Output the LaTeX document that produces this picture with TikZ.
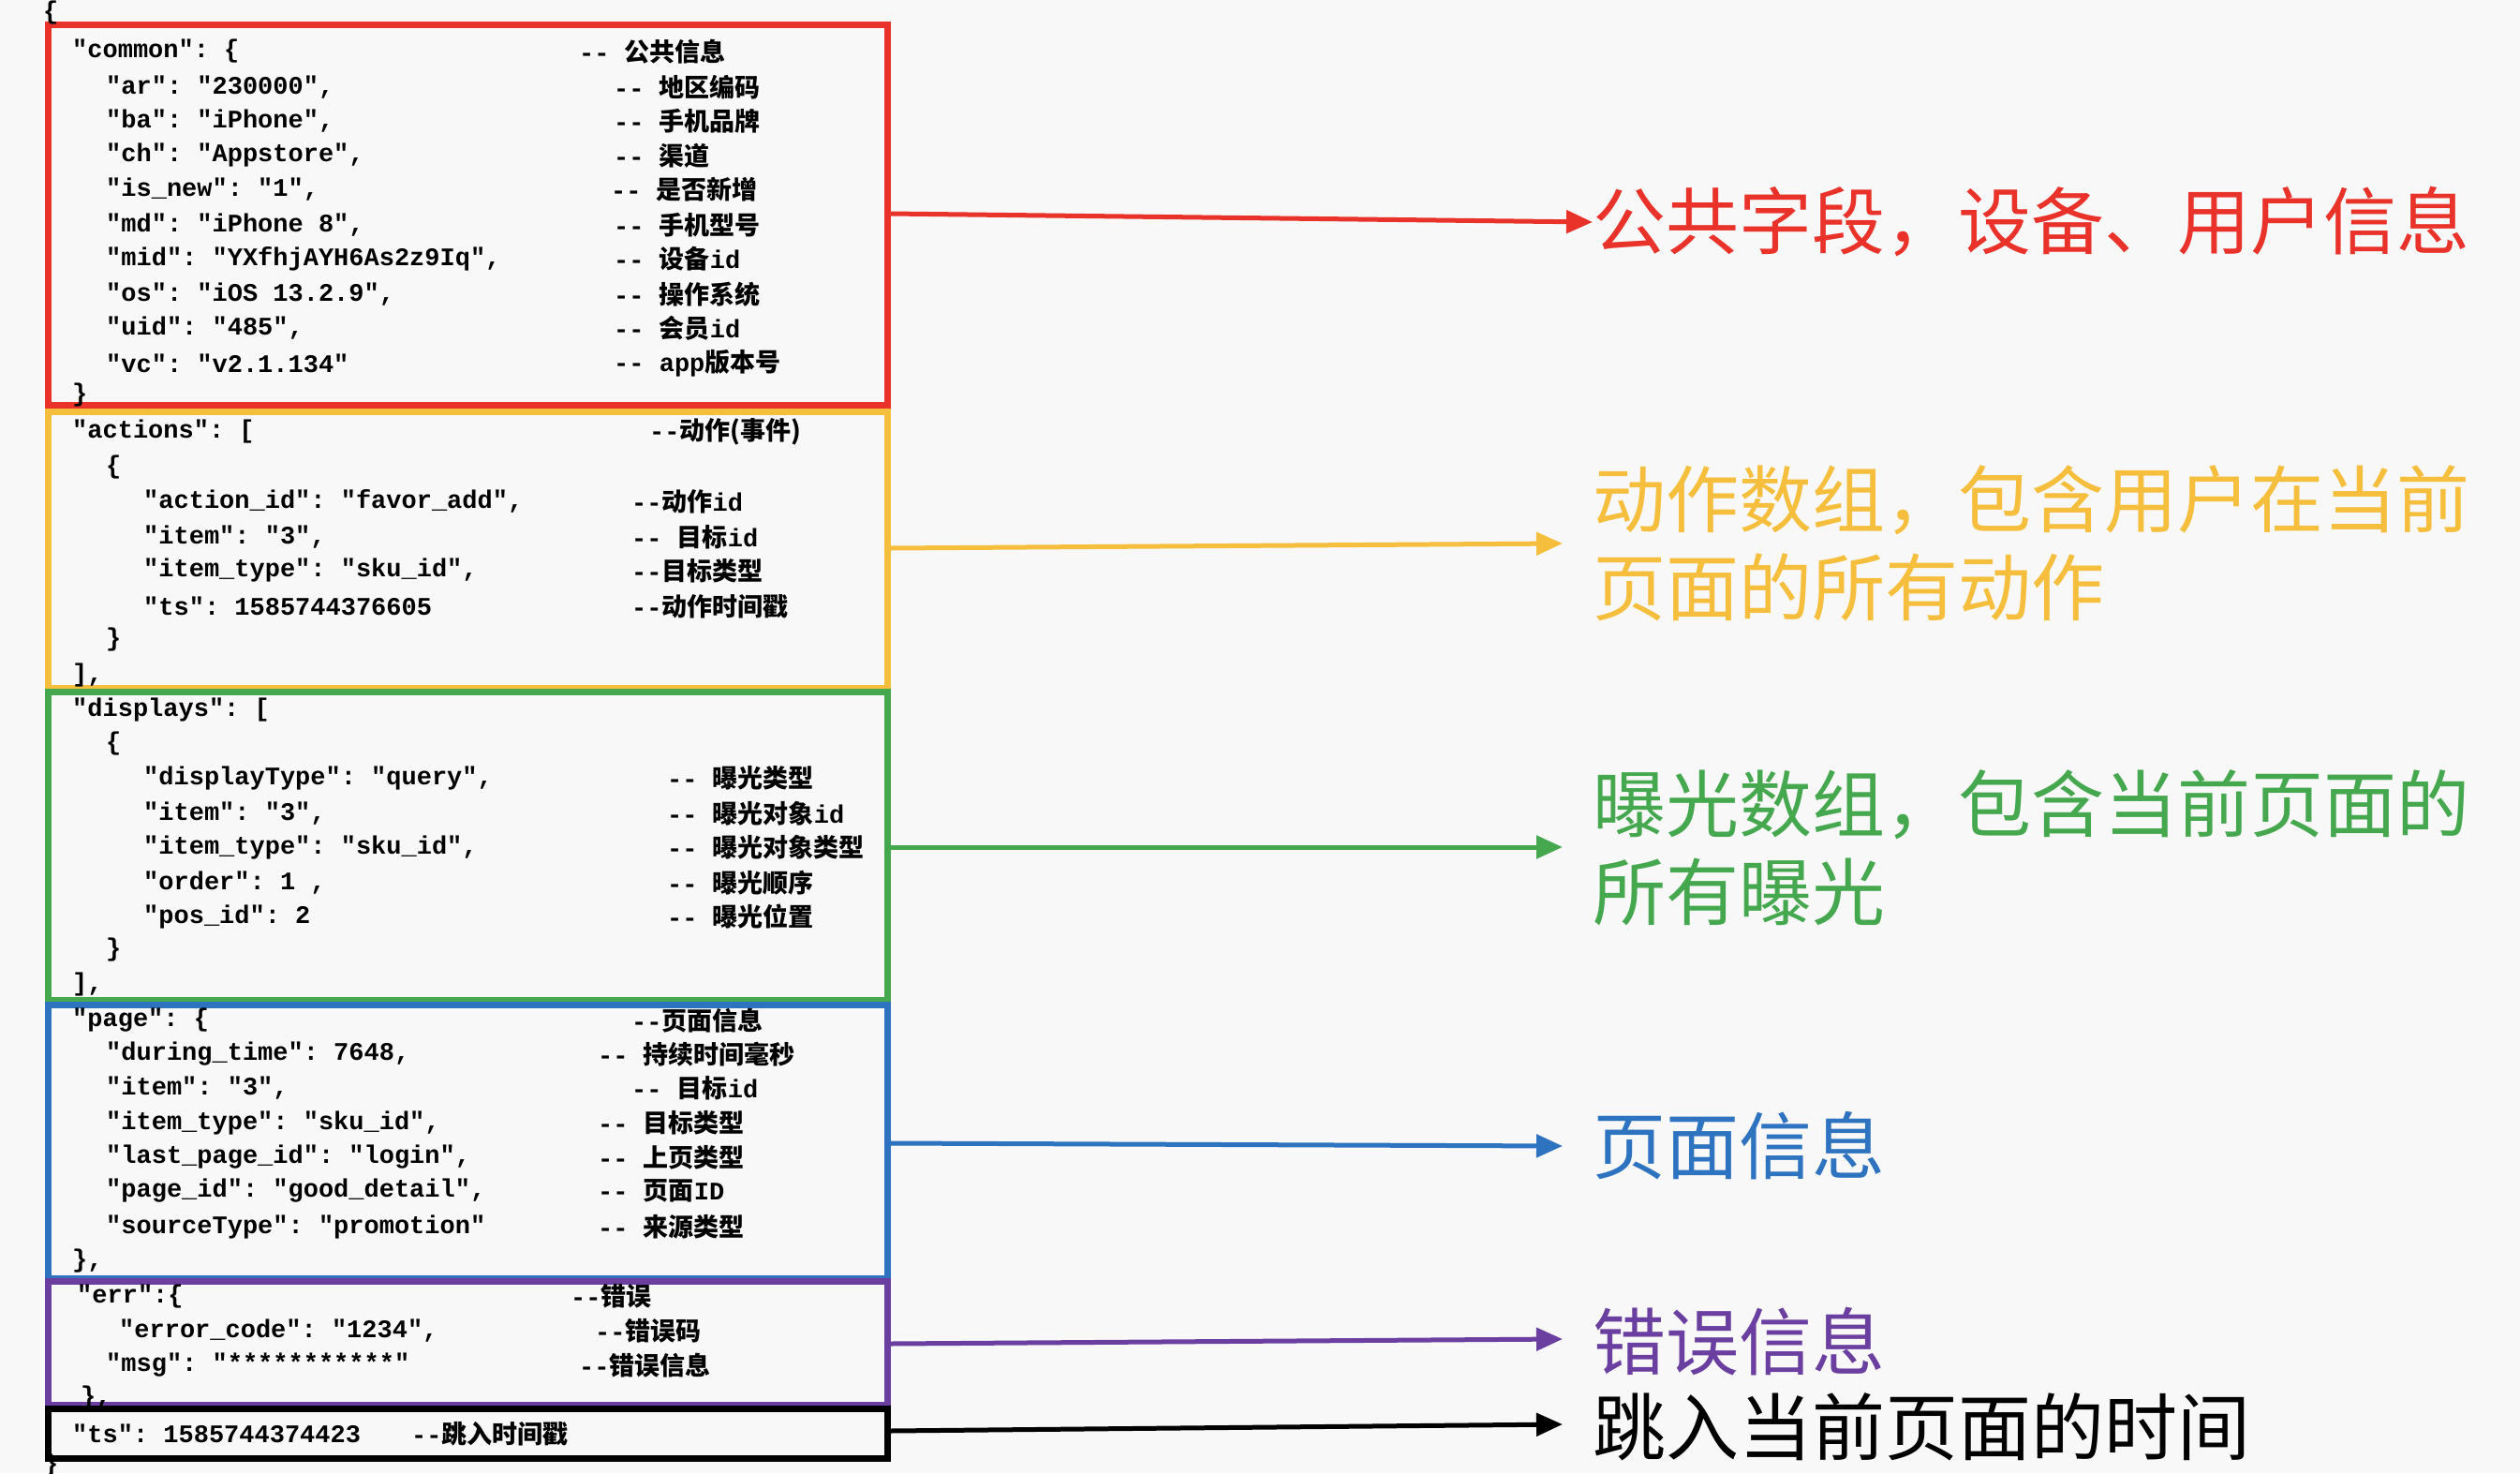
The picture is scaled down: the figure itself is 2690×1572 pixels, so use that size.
\documentclass[tikz,border=0pt]{standalone}
\usepackage{fontspec}
\setmonofont{Liberation Mono}
\newfontfamily\cjk{Noto Sans CJK SC}
\usetikzlibrary{arrows.meta}
\definecolor{cred}{HTML}{E8322A}
\definecolor{cyel}{HTML}{F5BE3C}
\definecolor{cgrn}{HTML}{45A84F}
\definecolor{cblu}{HTML}{2E73C0}
\definecolor{cpur}{HTML}{6A3FA0}
\definecolor{bg}{HTML}{F8F8F8}
\newcommand{\cj}[1]{{\cjk #1}}
\tikzset{
 code/.style={anchor=west,inner sep=0pt,font=\fontsize{27}{30}\selectfont\ttfamily\bfseries},
 sect/.style={line width=7pt},
 conn/.style={line width=5pt,-{Triangle[length=28pt,width=24pt]}},
 big/.style={anchor=west,inner sep=0pt,align=left,font=\fontsize{78}{94}\selectfont\cjk}
}
\begin{document}
\begin{tikzpicture}[x=1pt,y=-1pt]
\fill[bg] (0,0) rectangle (2690,1572);
\useasboundingbox (0,0) rectangle (2690,1572);
% boxes
\draw[sect,cred] (51,26) rectangle (947,432) coordinate (rb);
\node (rbox) at (947,230) {};
\draw[sect,cyel] (51,439) rectangle (947,734);
\draw[sect,cgrn] (51,738) rectangle (947,1067);
\draw[sect,cblu] (51,1072) rectangle (947,1364);
\draw[sect,cpur] (51,1367) rectangle (947,1499);
\draw[sect,black] (51,1503) rectangle (947,1556);
\coordinate (ra) at (950,228);
\coordinate (ya) at (950,585);
\coordinate (ga) at (950,904);
\coordinate (ba) at (950,1220);
\coordinate (pa) at (950,1434);
\coordinate (ka) at (950,1527);
% labels
\node[big,text=cred] (lr) at (1700,237) {公共字段，设备、用户信息};
\node[big,text=cyel] (ly) at (1700,580) {动作数组，包含用户在当前\\页面的所有动作};
\node[big,text=cgrn] (lg) at (1700,905) {曝光数组，包含当前页面的\\所有曝光};
\node[big,text=cblu] (lb) at (1700,1223) {页面信息};
\node[big,text=cpur] (lp) at (1700,1432) {错误信息};
\node[big,text=black] (lk) at (1700,1523) {跳入当前页面的时间};
\draw[conn,cred] (ra) -- (lr.west|-0,237) coordinate (re);
\draw[conn,cyel] (ya) -- (1668,580);
\draw[conn,cgrn] (ga) -- (1668,904);
\draw[conn,cblu] (ba) -- (1668,1223);
\draw[conn,cpur] (pa) -- (1668,1429);
\draw[conn,black] (ka) -- (1668,1520);
% code
\node[code] (o1) at (46,14) {\{};
\node[code] (o2) at (46,1563) {\}};
\node[code] (c1) at (77,55) {"common": \{};
\node[code] at (618,55) {-- \cj{公共信息}};
\node[code] at (113,93) {"ar": "230000",};  \node[code] at (655,93) {-- \cj{地区编码}};
\node[code] at (113,129) {"ba": "iPhone",}; \node[code] at (655,129) {-- \cj{手机品牌}};
\node[code] at (113,166) {"ch": "Appstore",}; \node[code] at (655,166) {-- \cj{渠道}};
\node[code] at (113,202) {"is\_new": "1",}; \node[code] at (652,202) {--  \cj{是否新增}};
\node[code] at (113,240) {"md": "iPhone 8",}; \node[code] at (655,240) {-- \cj{手机型号}};
\node[code] at (113,276) {"mid": "YXfhjAYH6As2z9Iq",}; \node[code] at (655,276) {-- \cj{设备}id};
\node[code] at (113,314) {"os": "iOS 13.2.9",}; \node[code] at (655,314) {-- \cj{操作系统}};
\node[code] at (113,350) {"uid": "485",}; \node[code] at (655,350) {-- \cj{会员}id};
\node[code] at (113,388) {"vc": "v2.1.134"}; \node[code] at (655,388) {-- app\cj{版本号}};
\node[code] at (77,422) {\}};
% actions
\node[code] at (77,461) {"actions": [}; \node[code] at (693,461) {--\cj{动作(事件)}};
\node[code] at (113,499) {\{};
\node[code] at (153,535) {"action\_id": "favor\_add",}; \node[code] at (674,535) {--\cj{动作}id};
\node[code] at (153,573) {"item": "3",}; \node[code] at (674,573) {-- \cj{目标}id};
\node[code] at (153,609) {"item\_type": "sku\_id",}; \node[code] at (674,609) {--\cj{目标类型}};
\node[code] at (153,647) {"ts": 1585744376605}; \node[code] at (674,647) {--\cj{动作时间戳}};
\node[code] at (113,683) {\}};
\node[code] at (77,721) {],};
% displays
\node[code] at (77,757) {"displays": [};
\node[code] at (113,794) {\{};
\node[code] at (153,830) {"displayType": "query",}; \node[code] at (712,830) {-- \cj{曝光类型}};
\node[code] at (153,868) {"item": "3",}; \node[code] at (712,868) {-- \cj{曝光对象}id};
\node[code] at (153,904) {"item\_type": "sku\_id",}; \node[code] at (712,904) {-- \cj{曝光对象类型}};
\node[code] at (153,942) {"order": 1 ,}; \node[code] at (712,942) {-- \cj{曝光顺序}};
\node[code] at (153,978) {"pos\_id": 2}; \node[code] at (712,978) {-- \cj{曝光位置}};
\node[code] at (113,1014) {\}};
\node[code] at (77,1051) {],};
% page
\node[code] at (77,1089) {"page": \{}; \node[code] at (674,1089) {--\cj{页面信息}};
\node[code] at (113,1125) {"during\_time": 7648,}; \node[code] at (638,1125) {-- \cj{持续时间毫秒}};
\node[code] at (113,1161) {"item": "3",}; \node[code] at (674,1161) {-- \cj{目标}id};
\node[code] at (113,1198) {"item\_type": "sku\_id",}; \node[code] at (638,1198) {-- \cj{目标类型}};
\node[code] at (113,1235) {"last\_page\_id": "login",}; \node[code] at (638,1235) {-- \cj{上页类型}};
\node[code] at (113,1271) {"page\_id": "good\_detail",}; \node[code] at (638,1271) {-- \cj{页面}ID};
\node[code] at (113,1309) {"sourceType": "promotion"}; \node[code] at (638,1309) {-- \cj{来源类型}};
\node[code] at (77,1345) {\},};
% err
\node[code] at (82,1383) {"err":\{}; \node[code] at (609,1383) {--\cj{错误}};
\node[code] at (127,1420) {"error\_code": "1234",}; \node[code] at (635,1420) {--\cj{错误码}};
\node[code] at (113,1457) {"msg": "***********"}; \node[code] at (618,1457) {--\cj{错误信息}};
\node[code] at (86,1491) {\},};
% ts
\node[code] at (77,1530) {"ts": 1585744374423}; \node[code] at (439,1530) {--\cj{跳入时间戳}};
\end{tikzpicture}
\end{document}
